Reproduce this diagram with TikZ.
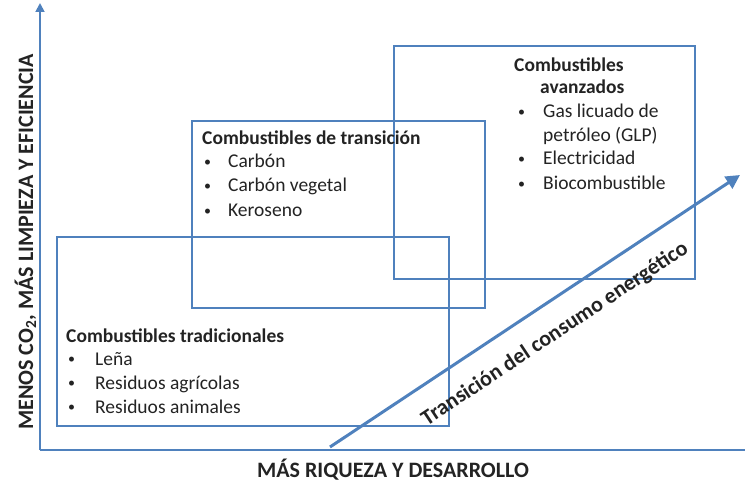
\documentclass[tikz,border=0pt]{standalone}
\usepackage{fontspec}
\setmainfont{Carlito}
\usetikzlibrary{arrows.meta}
\definecolor{obl}{RGB}{79,129,189}
\definecolor{txt}{RGB}{35,35,35}
\newcommand{\smbul}{{\fontsize{14}{14}\selectfont\raisebox{1.6pt}{\textbullet}}}
\tikzset{
  box/.style={draw=obl, line width=1.8pt},
  axis/.style={draw=obl, line width=1.8pt},
  lbl/.style={anchor=base west, inner sep=0pt, text=txt, font=\fontsize{19.5}{23}\selectfont},
  hdr/.style={lbl, font=\fontsize{19.5}{23}\selectfont\bfseries},
  axlbl/.style={inner sep=0pt, text=txt, font=\fontsize{22}{26}\selectfont\bfseries},
}
\begin{document}
\begin{tikzpicture}[x=1pt,y=-1pt]
\useasboundingbox (0,0) rectangle (745,481);
% boxes
\draw[box] (57,237) rectangle (449,426);
\draw[box] (192,121) rectangle (485,308);
\draw[box] (394,46) rectangle (695,279);
% axes
\coordinate (o) at (40,450);
\coordinate (ytop) at (40,3);
\coordinate (xend) at (745,450);
\draw[axis, -{Triangle[length=9pt,width=9pt]}] (o) -- (ytop);
\draw[axis] (o) -- (xend);
% diagonal arrow
\coordinate (ds) at (330,447);
\coordinate (de) at (740,175);
\draw[obl, line width=3pt, -{Triangle[length=14pt,width=14pt]}] (ds) -- (de);
\node[axlbl, rotate=33.6, anchor=center] (tr) at (555,334) {Transición del consumo energético};
% axis labels
\node[axlbl, rotate=90, anchor=base] (yl) at (33,242) {MENOS CO\textsubscript{2}, MÁS LIMPIEZA Y EFICIENCIA};
\node[axlbl, anchor=base] (xl) at (393,477) {MÁS RIQUEZA Y DESARROLLO};
% box 1 text
\node[hdr] (h1) at (66,342) {Combustibles tradicionales};
\node[lbl] (b11) at (68,365) {\smbul}; \node[lbl] (t11) at (95,365) {Leña};
\node[lbl] (b12) at (68,389) {\smbul}; \node[lbl] (t12) at (95,389) {Residuos agrícolas};
\node[lbl] (b13) at (68,413) {\smbul}; \node[lbl] (t13) at (95,413) {Residuos animales};
% box 2 text
\node[hdr] (h2) at (202,145) {Combustibles de transición};
\node[lbl] (b21) at (204,168) {\smbul}; \node[lbl] (t21) at (228,168) {Carbón};
\node[lbl] (b22) at (204,192) {\smbul}; \node[lbl] (t22) at (228,192) {Carbón vegetal};
\node[lbl] (b23) at (204,217) {\smbul}; \node[lbl] (t23) at (228,217) {Keroseno};
% box 3 text
\node[hdr] (h3) at (514,72) {Combustibles};
\node[hdr] (h3b) at (540,94) {avanzados};
\node[lbl] (b31) at (518,118) {\smbul}; \node[lbl] (t31) at (543,118) {Gas licuado de};
\node[lbl] (t31b) at (543,142) {petróleo (GLP)};
\node[lbl] (b32) at (518,165) {\smbul}; \node[lbl] (t32) at (543,165) {Electricidad};
\node[lbl] (b33) at (518,190) {\smbul}; \node[lbl] (t33) at (543,190) {Biocombustible};
\end{tikzpicture}
\end{document}
